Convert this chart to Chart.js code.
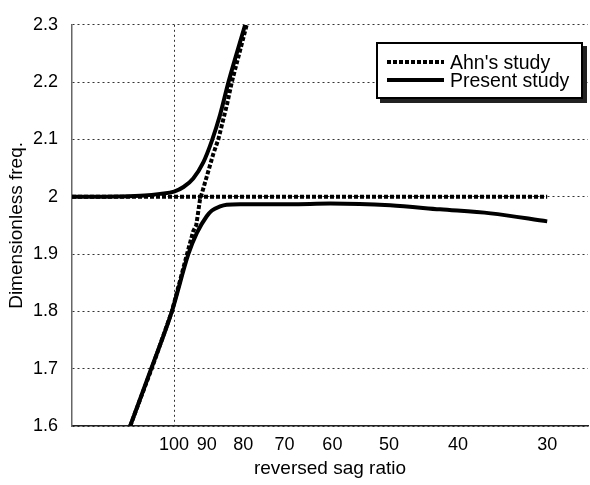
<!DOCTYPE html>
<html>
<head>
<meta charset="utf-8">
<script src="https://cdn.jsdelivr.net/npm/chart.js@4"></script>
<style>
  html, body { margin: 0; padding: 0; background: #fff; }
  #wrap { position: relative; width: 590px; height: 485px; }
  #legendBox {
    position: absolute; left: 376px; top: 42px; width: 203px; height: 53px;
    border: 2px solid #000; background: #fff; box-shadow: 4px 4px 0 #222;
    font-family: "Liberation Sans", Arial, sans-serif; font-size: 19.5px; color: #000;
  }
  .lg-row { position: absolute; left: 9px; height: 18px; line-height: 18px; white-space: nowrap; }
  .lg-row svg { position: absolute; left: 0; top: 0; }
  .lg-row span { position: absolute; left: 63px; top: 0; }
</style>
</head>
<body>
<div id="wrap">
  <canvas id="c" width="590" height="485"></canvas>
  <div id="legendBox">
    <div class="lg-row" style="top:9px">
      <svg width="58" height="18"><line x1="0" y1="9" x2="57" y2="9" stroke="#000" stroke-width="4" stroke-dasharray="4 2"/></svg>
      <span>Ahn's study</span>
    </div>
    <div class="lg-row" style="top:27px">
      <svg width="58" height="18"><line x1="0" y1="9" x2="57" y2="9" stroke="#000" stroke-width="4"/></svg>
      <span>Present study</span>
    </div>
  </div>
</div>
<script>
// axis ticks
var xTicks = [100, 90, 80, 70, 60, 50, 40, 30];
var yTicks = [1.6, 1.7, 1.8, 1.9, 2.0, 2.1, 2.2, 2.3];

// Ahn's study: flat branch and rising branch
var ahnFlatX = [139, 30];
var ahnFlatY = [2.0, 2.0];
var ahnRiseX = [115.2, 107.5, 100.7, 95.9, 94.0, 93.1, 92.0, 90.0, 88.1, 86.7, 84.3, 83.0, 79.1];
var ahnRiseY = [1.60, 1.70, 1.80, 1.90, 1.94, 1.95, 1.994, 2.035, 2.075, 2.10, 2.161, 2.20, 2.30];

// Present study: upper and lower branches
var presUpX = [139, 120, 110, 104.6, 100, 97, 94.0, 91.0, 88.5, 86.2, 83.9, 79.5];
var presUpY = [2.0, 2.0005, 2.002, 2.005, 2.009, 2.017, 2.032, 2.060, 2.098, 2.143, 2.20, 2.30];
var presLowX = [115.2, 107.5, 100.7, 95.5, 92.9, 90.0, 88.5, 86.2, 84.4, 80.8, 68.8, 60.4, 49.8, 42.4, 36.0, 30];
var presLowY = [1.60, 1.702, 1.80, 1.90, 1.937, 1.966, 1.976, 1.983, 1.986, 1.987, 1.987, 1.988, 1.985, 1.978, 1.971, 1.957];

function pts(xs, ys) {
  return xs.map(function (x, i) { return { x: x, y: ys[i] }; });
}

function series(xs, ys, dashed) {
  return {
    data: pts(xs, ys),
    showLine: true,
    borderColor: '#000',
    borderWidth: 4,
    borderDash: dashed ? [4, 2] : [],
    pointRadius: 0,
    cubicInterpolationMode: dashed ? 'default' : 'monotone',
    tension: dashed ? 0 : 0.4,
    fill: false
  };
}

var font = { family: '"Liberation Sans", Arial, sans-serif', size: 18 };
var titleFont = { family: '"Liberation Sans", Arial, sans-serif', size: 19 };

new Chart(document.getElementById('c'), {
  type: 'scatter',
  data: {
    datasets: [
      series(presUpX, presUpY, false),
      series(presLowX, presLowY, false),
      series(ahnFlatX, ahnFlatY, true),
      series(ahnRiseX, ahnRiseY, true)
    ]
  },
  options: {
    responsive: false,
    animation: false,
    layout: { padding: { top: 19, right: 2, left: 0, bottom: 0 } },
    plugins: { legend: { display: false }, tooltip: { enabled: false } },
    scales: {
      x: {
        type: 'logarithmic',
        reverse: true,
        min: 26.3,
        max: 139,
        afterBuildTicks: function (s) { s.ticks = xTicks.map(function (v) { return { value: v }; }); },
        afterFit: function (s) { s.height = 59; },
        ticks: {
          autoSkip: false, maxRotation: 0, padding: 8, color: '#000', font: font,
          callback: function (v) { return String(v); }
        },
        grid: {
          drawTicks: false,
          color: function (ctx) { return ctx.tick && ctx.tick.value === 100 ? '#333' : 'rgba(0,0,0,0)'; },
          lineWidth: 1
        },
        border: { display: true, color: '#222', width: 1.5, dash: [2, 3] },
        title: { display: true, text: 'reversed sag ratio', color: '#000', font: titleFont, padding: { top: 0, bottom: 5 } }
      },
      y: {
        min: 1.6,
        max: 2.3,
        afterBuildTicks: function (s) { s.ticks = yTicks.map(function (v) { return { value: v }; }); },
        afterFit: function (s) { s.width = 72; },
        ticks: {
          padding: 14, color: '#000', font: font,
          callback: function (v) { return String(Math.round(v * 10) / 10); }
        },
        grid: { drawTicks: false, color: '#333', lineWidth: 1 },
        border: { display: true, color: '#666', width: 1.5, dash: [2, 3] },
        title: { display: true, text: 'Dimensionless freq.', color: '#000', font: titleFont, padding: { top: 5, bottom: 0 } }
      }
    }
  }
});
</script>
</body>
</html>
